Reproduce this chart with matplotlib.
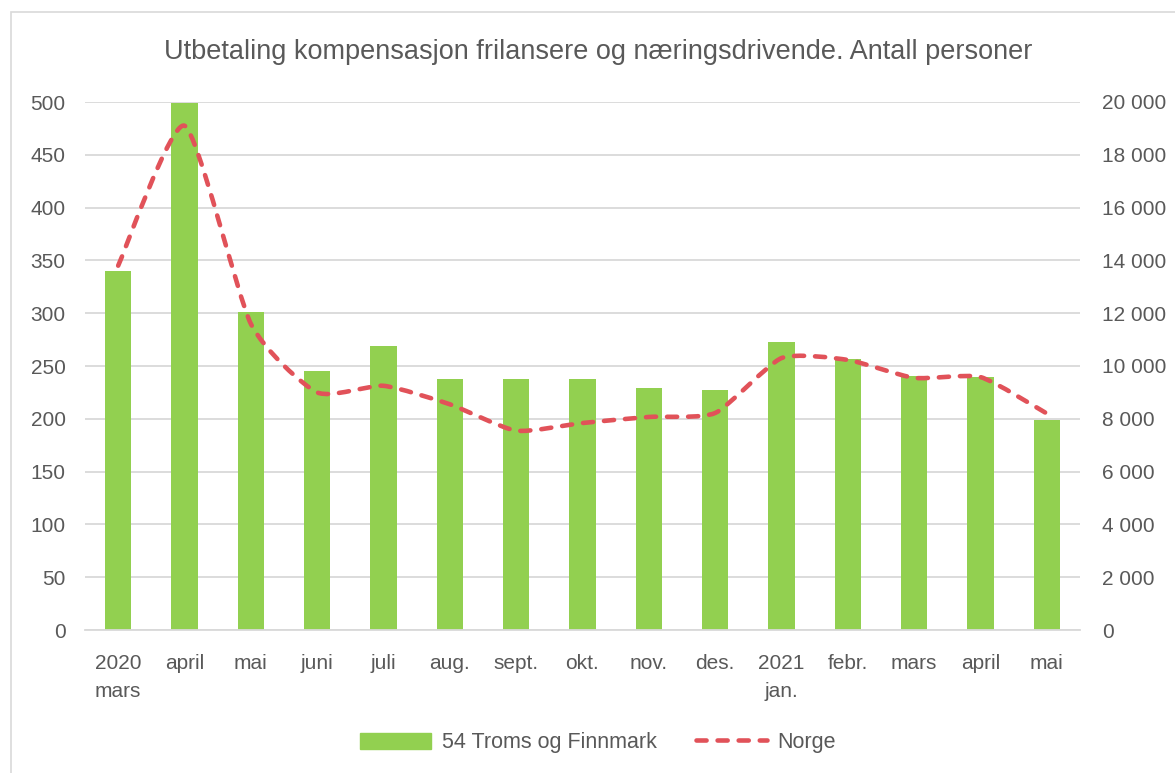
import numpy as np
import matplotlib.pyplot as plt
from matplotlib.path import Path
from matplotlib.patches import PathPatch, Rectangle
from matplotlib.lines import Line2D
from matplotlib.ticker import FuncFormatter

plt.rcParams['font.family'] = ['Liberation Sans', 'DejaVu Sans']

# data
months = ['2020\nmars', 'april', 'mai', 'juni', 'juli', 'aug.', 'sept.', 'okt.',
          'nov.', 'des.', '2021\njan.', 'febr.', 'mars', 'april', 'mai']
troms = [340, 499, 301, 245, 269, 238, 238, 238, 229, 227, 273, 257, 241, 240, 199]
norge = [13800, 19100, 11600, 9000, 9250, 8550, 7550, 7840, 8070, 8220,
         10300, 10230, 9550, 9580, 8200]

green = '#92D050'
red = '#E15259'
txt = '#595959'
grid = '#D9D9D9'
dash = (0, (2.2, 2.4))

fig = plt.figure(figsize=(11.75, 7.73), dpi=100)
fig.patches.append(Rectangle((0.009, -0.01), 1.2, 0.995, transform=fig.transFigure,
                             fill=False, edgecolor=grid, linewidth=1.2))

ax = fig.add_axes([85/1175, 1-630/773, 995/1175, 528/773])
x = np.arange(len(months))
ax.bar(x, troms, width=0.4, color=green, zorder=2)
ax.set_xlim(-0.5, len(months)-0.5)
ax.set_ylim(0, 500)
ax.set_yticks(range(0, 501, 50))
ax.grid(axis='y', color=grid, linewidth=1.3, zorder=0)
ax.set_axisbelow(True)
for s in ['top', 'left', 'right']:
    ax.spines[s].set_visible(False)
ax.spines['bottom'].set_color(grid)
ax.spines['bottom'].set_linewidth(1.3)
ax.set_xticks(x)
ax.set_xticklabels(months, color=txt, fontsize=15, linespacing=1.6, va='top')
ax.tick_params(axis='both', length=0, labelsize=15, labelcolor=txt)
ax.tick_params(axis='x', pad=17)
ax.tick_params(axis='y', pad=14)

ax2 = ax.twinx()
ax2.set_ylim(0, 20000)
ax2.set_yticks(range(0, 20001, 2000))
ax2.yaxis.set_major_formatter(FuncFormatter(lambda v, p: f'{int(v):,}'.replace(',', ' ')))
ax2.tick_params(axis='y', length=0, labelsize=15, labelcolor=txt, pad=16)
for s in ax2.spines.values():
    s.set_visible(False)

# smoothed line (Catmull-Rom -> Bezier, reduced tension)
pts = np.column_stack([x, norge]).astype(float)
verts = [pts[0]]
codes = [Path.MOVETO]
n = len(pts)
k = 10
for i in range(n - 1):
    p0 = pts[max(i - 1, 0)]
    p1 = pts[i]
    p2 = pts[i + 1]
    p3 = pts[min(i + 2, n - 1)]
    c1 = p1 + (p2 - p0) / k
    c2 = p2 - (p3 - p1) / k
    verts += [c1, c2, p2]
    codes += [Path.CURVE4] * 3
patch = PathPatch(Path(verts, codes), fill=False, edgecolor=red, linewidth=3.3,
                  linestyle=dash, capstyle='round', zorder=3)
ax2.add_patch(patch)

fig.text(0.509, 0.933, 'Utbetaling kompensasjon frilansere og næringsdrivende. Antall personer',
         ha='center', va='center', fontsize=19.5, color=txt)

handles = [Rectangle((0, 0), 1, 1, color=green),
           Line2D([0], [0], color=red, linewidth=3.3, linestyle=dash,
                  dash_capstyle='round')]
fig.legend(handles, ['54 Troms og Finnmark', 'Norge'], loc='center',
           bbox_to_anchor=(0.509, 0.039), ncol=2, frameon=False, fontsize=15.5,
           labelcolor=txt, handlelength=3.3, handleheight=0.8, handletextpad=0.5,
           columnspacing=1.8)

fig.savefig('out.png', dpi=100)
